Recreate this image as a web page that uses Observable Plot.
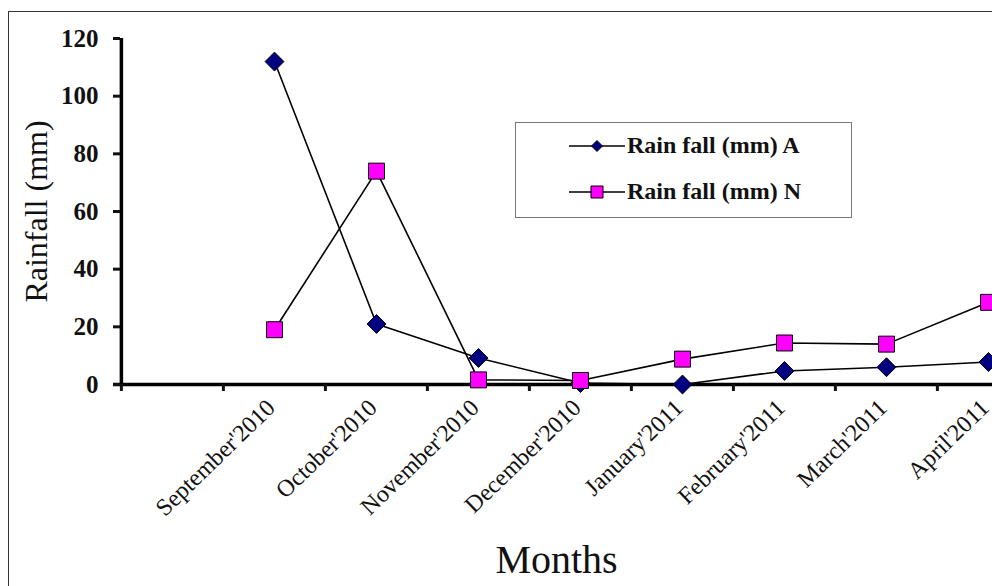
<!DOCTYPE html>
<html>
<head>
<meta charset="utf-8">
<script src="https://cdn.jsdelivr.net/npm/d3@7"></script>
<script src="https://cdn.jsdelivr.net/npm/@observablehq/plot@0.6"></script>
<style>
  html, body { margin: 0; padding: 0; background: #fff; overflow: hidden; }
  #wrap { position: relative; width: 992px; height: 586px; overflow: hidden; font-family: "Liberation Serif", "Times New Roman", serif; }
  #frame { position: absolute; left: 8px; top: 11px; width: 1200px; height: 800px; border-left: 1.5px solid #333; border-top: 1.5px solid #333; pointer-events: none; }
  #legend { position: absolute; left: 515px; top: 122px; width: 335px; height: 94px; border: 1.5px solid #777; background: #fff; }
  #legend svg { position: absolute; left: 0; top: 0; }
  #legend .lab { position: absolute; left: 111px; font-size: 24px; font-weight: bold; color: #111; white-space: pre; line-height: 1; }
</style>
</head>
<body>
<div id="wrap">
  <div id="chart"></div>
  <div id="frame"></div>
  <div id="legend"></div>
</div>
<script>
// ---- data ----
const months = ["September'2010", "October'2010", "November'2010", "December'2010",
                "January'2011", "February'2011", "March'2011", "April'2011"];
const slots = ["", ...months];               // first category left empty on the axis
const rainA = [112, 21, 9.2, 0.5, 0, 4.7, 6, 7.8];
const rainN = [19, 74, 1.6, 1.4, 8.8, 14.4, 14, 28.5];
const yTicks = [0, 20, 40, 60, 80, 100, 120];
const seriesNames = ["Rain fall (mm) A", "Rain fall (mm) N"];
const yLabel = "Rainfall (mm)";
const xLabel = "Months";

const dataA = months.map((m, i) => ({month: m, value: rainA[i]}));
const dataN = months.map((m, i) => ({month: m, value: rainN[i]}));

const xRange = [120, 1040];
const step = (xRange[1] - xRange[0]) / slots.length;
const font = "Liberation Serif, Times New Roman, serif";

const chart = Plot.plot({
  width: 992,
  height: 586,
  marginLeft: 120,
  marginTop: 38,
  marginBottom: 202,
  marginRight: 0,
  style: {fontFamily: font, color: "#111", background: "transparent", overflow: "visible"},
  x: {type: "point", domain: slots, range: xRange, padding: 0.5},
  y: {domain: [yTicks[0], yTicks[yTicks.length - 1]]},
  marks: [
    // y axis line
    Plot.ruleX([slots[0]], {dx: -step / 2, y1: yTicks[0], y2: yTicks[yTicks.length - 1], stroke: "black", strokeWidth: 3.5}),
    // x axis line
    Plot.ruleY([yTicks[0]], {stroke: "black", strokeWidth: 3.5, insetLeft: -7}),
    Plot.axisY(yTicks, {tickSize: 7, tickPadding: 15, fontSize: 25, fontWeight: "bold", strokeWidth: 3, label: null}),
    // x boundary ticks (between categories)
    Plot.axisX(slots, {tickSize: 7, dx: -step / 2, tickFormat: () => "", strokeWidth: 3, label: null}),
    // x tick labels
    Plot.text(months, {x: d => d, frameAnchor: "bottom", rotate: -44, textAnchor: "end", lineAnchor: "bottom",
                       dx: 2, dy: 25, fontSize: 24, fill: "#111"}),
    // axis titles
    Plot.text([yLabel], {frameAnchor: "left", rotate: -90, textAnchor: "middle", dx: -84, fontSize: 32, fill: "#111"}),
    Plot.text([xLabel], {frameAnchor: "bottom", textAnchor: "middle", dy: 188, fontSize: 40, fill: "#111"}),
    // series
    Plot.line(dataA, {x: "month", y: "value", stroke: "black", strokeWidth: 1.6}),
    Plot.line(dataN, {x: "month", y: "value", stroke: "black", strokeWidth: 1.6}),
    Plot.dot(dataA, {x: "month", y: "value", symbol: "diamond2", r: 8.5, fill: "#000080", stroke: "black", strokeWidth: 1}),
    Plot.dot(dataN, {x: "month", y: "value", symbol: "square", r: 9, fill: "#ff00ff", stroke: "black", strokeWidth: 1})
  ]
});
document.getElementById("chart").appendChild(chart);

// ---- legend ----
const legend = document.getElementById("legend");
const ns = "http://www.w3.org/2000/svg";
const lsvg = document.createElementNS(ns, "svg");
lsvg.setAttribute("width", 335);
lsvg.setAttribute("height", 94);
const rowsY = [23, 69];
rowsY.forEach((cy, i) => {
  const ln = document.createElementNS(ns, "line");
  ln.setAttribute("x1", 53); ln.setAttribute("x2", 109);
  ln.setAttribute("y1", cy); ln.setAttribute("y2", cy);
  ln.setAttribute("stroke", "black"); ln.setAttribute("stroke-width", 1.6);
  lsvg.appendChild(ln);
  const sym = document.createElementNS(ns, "path");
  if (i === 0) {
    sym.setAttribute("d", `M81,${cy - 5.5}L86.5,${cy}L81,${cy + 5.5}L75.5,${cy}Z`);
    sym.setAttribute("fill", "#000080");
  } else {
    sym.setAttribute("d", `M75,${cy - 6}h12v12h-12Z`);
    sym.setAttribute("fill", "#ff00ff");
  }
  sym.setAttribute("stroke", "black"); sym.setAttribute("stroke-width", 1);
  lsvg.appendChild(sym);
  const lab = document.createElement("div");
  lab.className = "lab";
  lab.style.top = (cy - 13) + "px";
  lab.textContent = seriesNames[i];
  legend.appendChild(lab);
});
legend.appendChild(lsvg);
</script>
</body>
</html>
